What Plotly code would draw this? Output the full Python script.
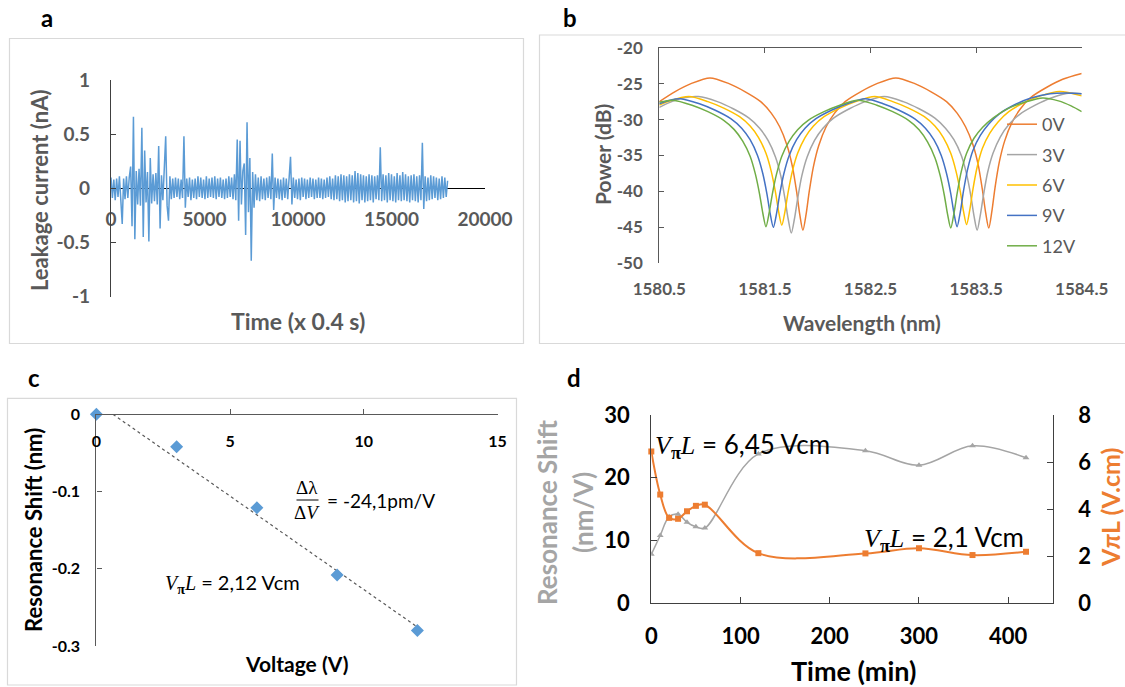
import plotly.graph_objects as go
import numpy as np

# ---------------- data ----------------
# Panel a: leakage current (nA), sampled every 75 time units (x 0.4 s)
leak_current = [
    0.10, -0.09, 0.08, -0.11, 0.09, -0.08, 0.11, -0.10, -0.33, 0.09,
    -0.10, 0.11, -0.09, 0.10, 0.20, -0.35, 0.66, -0.47, 0.16, -0.15,
    0.18, -0.16, 0.56, -0.45, 0.35, -0.13, 0.15, -0.49, 0.28, -0.14,
    0.13, -0.12, 0.14, -0.15, 0.39, -0.37, 0.12, -0.11, 0.15, 0.48,
    -0.16, -0.30, 0.11, -0.10, 0.09, -0.09, 0.10, -0.08, 0.09, -0.10,
    0.08, -0.09, 0.48, -0.18, 0.09, -0.08, 0.10, -0.11, 0.08, -0.09,
    0.09, -0.10, 0.11, -0.08, 0.10, -0.09, 0.08, -0.10, 0.11, -0.09,
    0.09, -0.08, 0.10, -0.09, 0.11, -0.10, 0.09, -0.08, 0.10, -0.09,
    0.08, -0.10, 0.09, -0.09, 0.11, -0.08, 0.10, -0.10, 0.13, -0.11,
    0.45, -0.30, 0.44, -0.15, 0.16, 0.23, -0.43, 0.61, -0.22, 0.28,
    -0.67, 0.15, -0.18, 0.13, -0.11, 0.10, -0.12, 0.11, -0.10, 0.09,
    -0.11, 0.10, -0.09, 0.11, -0.10, 0.32, -0.20, 0.10, -0.09, 0.09,
    -0.10, 0.08, -0.11, 0.10, -0.09, 0.09, -0.10, 0.09, 0.29, -0.15,
    0.10, -0.09, 0.08, -0.10, 0.09, -0.11, 0.10, -0.08, 0.09, -0.10,
    0.08, -0.09, 0.10, -0.08, 0.09, -0.10, 0.08, -0.09, 0.10, -0.09,
    0.09, -0.10, 0.08, -0.09, 0.10, -0.08, 0.11, -0.10, 0.09, -0.11,
    0.12, -0.10, 0.11, -0.12, 0.13, -0.11, 0.12, -0.13, 0.11, -0.12,
    0.13, -0.11, 0.12, -0.13, 0.16, -0.12, 0.14, -0.14, 0.13, -0.11,
    0.12, -0.13, 0.11, -0.12, 0.13, -0.11, 0.12, -0.13, 0.11, -0.10,
    0.12, -0.11, 0.38, -0.12, 0.13, -0.11, 0.12, -0.13, 0.14, -0.11,
    0.13, -0.12, 0.11, -0.13, 0.14, -0.11, 0.12, -0.12, 0.15, -0.11,
    0.13, -0.12, 0.11, -0.13, 0.12, -0.11, 0.13, -0.12, 0.11, -0.13,
    0.12, -0.11, 0.42, -0.19, 0.11, -0.12, 0.10, -0.11, 0.12, -0.10,
    0.11, -0.09, 0.10, -0.11, 0.09, -0.10, 0.11, -0.09, 0.10, -0.08, 0.07,
]
leak_step = 75
leak_time = [i * leak_step for i in range(len(leak_current))]
leak_xticks = [0, 5000, 10000, 15000, 20000]
leak_yticks = [1, 0.5, 0, -0.5, -1]

# Panel b: transmission spectra
wl_0V = [1580.5, 1580.65, 1580.8, 1580.98, 1581.16, 1581.31, 1581.46, 1581.56, 1581.64, 1581.71,
         1581.76, 1581.80, 1581.83, 1581.86, 1581.89, 1581.92, 1581.96, 1582.01, 1582.08, 1582.16,
         1582.26, 1582.41, 1582.56, 1582.74, 1582.92, 1583.07, 1583.22, 1583.32, 1583.40, 1583.47,
         1583.52, 1583.56, 1583.59, 1583.62, 1583.65, 1583.68, 1583.72, 1583.77, 1583.84, 1583.92,
         1584.02, 1584.17, 1584.32, 1584.5]
pw_0V = [-27.5, -26.1, -25.0, -24.2, -25.0, -26.1, -27.5, -29.1, -31.0, -33.6,
         -36.5, -40.0, -43.2, -45.4, -43.2, -40.0, -36.5, -33.6, -31.0, -29.1,
         -27.5, -26.1, -25.0, -24.2, -25.0, -26.1, -27.5, -29.1, -31.0, -33.5,
         -36.3, -39.8, -42.9, -45.1, -42.7, -39.4, -35.9, -33.0, -30.4, -28.5,
         -26.9, -25.5, -24.4, -23.6]
wl_3V = [1580.5, 1580.6, 1580.72, 1580.87, 1581.05, 1581.20, 1581.35, 1581.45, 1581.53, 1581.60,
         1581.65, 1581.69, 1581.72, 1581.75, 1581.78, 1581.81, 1581.85, 1581.90, 1581.97, 1582.05,
         1582.15, 1582.30, 1582.45, 1582.63, 1582.81, 1582.96, 1583.11, 1583.21, 1583.29, 1583.36,
         1583.41, 1583.45, 1583.48, 1583.51, 1583.54, 1583.57, 1583.61, 1583.66, 1583.73, 1583.81,
         1583.91, 1584.06, 1584.21, 1584.39, 1584.5]
pw_3V = [-28.3, -27.6, -27.0, -26.8, -27.5, -28.5, -29.8, -31.2, -32.9, -35.2,
         -37.8, -41.0, -43.8, -45.8, -43.8, -41.0, -37.8, -35.2, -32.9, -31.2,
         -29.8, -28.5, -27.5, -26.8, -27.5, -28.5, -29.8, -31.2, -32.8, -35.0,
         -37.6, -40.6, -43.4, -45.4, -43.3, -40.5, -37.3, -34.7, -32.4, -30.7,
         -29.3, -28.0, -27.0, -26.3, -26.4]
wl_6V = [1580.5, 1580.6, 1580.78, 1580.96, 1581.11, 1581.26, 1581.36, 1581.44, 1581.51, 1581.56,
         1581.60, 1581.63, 1581.66, 1581.69, 1581.72, 1581.76, 1581.81, 1581.88, 1581.96, 1582.06,
         1582.21, 1582.36, 1582.54, 1582.71, 1582.86, 1583.01, 1583.11, 1583.19, 1583.26, 1583.31,
         1583.35, 1583.38, 1583.41, 1583.44, 1583.47, 1583.51, 1583.56, 1583.63, 1583.71, 1583.81,
         1583.96, 1584.11, 1584.29, 1584.5]
pw_6V = [-28.0, -27.4, -26.8, -27.5, -28.4, -29.6, -30.9, -32.5, -34.7, -37.2,
         -40.1, -42.8, -44.7, -42.8, -40.1, -37.2, -34.7, -32.5, -30.9, -29.6,
         -28.4, -27.5, -26.8, -27.5, -28.4, -29.6, -30.9, -32.5, -34.7, -37.2,
         -40.0, -42.7, -44.6, -42.6, -39.7, -36.6, -34.0, -31.9, -30.3, -28.9,
         -27.6, -26.7, -26.1, -26.7]
wl_9V = [1580.5, 1580.6, 1580.70, 1580.88, 1581.03, 1581.18, 1581.28, 1581.36, 1581.43, 1581.48,
         1581.52, 1581.55, 1581.58, 1581.61, 1581.64, 1581.68, 1581.73, 1581.80, 1581.88, 1581.98,
         1582.13, 1582.28, 1582.45, 1582.62, 1582.77, 1582.92, 1583.02, 1583.10, 1583.17, 1583.22,
         1583.26, 1583.29, 1583.32, 1583.35, 1583.38, 1583.42, 1583.47, 1583.54, 1583.62, 1583.72,
         1583.87, 1584.02, 1584.20, 1584.35, 1584.5]
pw_9V = [-27.8, -27.3, -27.1, -27.8, -28.7, -29.9, -31.2, -32.8, -35.0, -37.5,
         -40.4, -43.1, -45.0, -43.1, -40.4, -37.5, -35.0, -32.8, -31.2, -29.9,
         -28.7, -27.8, -27.1, -27.8, -28.7, -29.9, -31.2, -32.8, -35.0, -37.5,
         -40.3, -43.0, -44.9, -42.9, -40.0, -36.9, -34.3, -32.2, -30.6, -29.2,
         -27.9, -27.0, -26.4, -26.3, -26.4]
wl_12V = [1580.5, 1580.63, 1580.81, 1580.96, 1581.11, 1581.21, 1581.29, 1581.36, 1581.41, 1581.45,
          1581.48, 1581.51, 1581.54, 1581.57, 1581.61, 1581.66, 1581.73, 1581.81, 1581.91, 1582.06,
          1582.21, 1582.38, 1582.56, 1582.71, 1582.86, 1582.96, 1583.04, 1583.11, 1583.16, 1583.20,
          1583.23, 1583.26, 1583.29, 1583.32, 1583.36, 1583.41, 1583.48, 1583.56, 1583.66, 1583.81,
          1583.96, 1584.13, 1584.28, 1584.4, 1584.5]
pw_12V = [-27.6, -27.3, -28.0, -28.9, -30.1, -31.4, -33.0, -35.1, -37.6, -40.4,
          -43.0, -44.9, -43.0, -40.4, -37.6, -35.1, -33.0, -31.4, -30.1, -28.9,
          -28.0, -27.3, -28.0, -28.9, -30.1, -31.4, -33.1, -35.3, -37.8, -40.6,
          -43.2, -45.1, -43.1, -40.3, -37.2, -34.7, -32.6, -31.1, -29.8, -28.4,
          -27.6, -27.0, -27.4, -28.1, -28.9]
spec_names = ["0V", "3V", "6V", "9V", "12V"]
spec_colors = ["#ED7D31", "#A5A5A5", "#FFC000", "#4472C4", "#70AD47"]
spec_wl = [wl_0V, wl_3V, wl_6V, wl_9V, wl_12V]
spec_pw = [pw_0V, pw_3V, pw_6V, pw_9V, pw_12V]
wl_ticks = [1580.5, 1581.5, 1582.5, 1583.5, 1584.5]
pw_ticks = [-20, -25, -30, -35, -40, -45, -50]

# Panel c: resonance shift vs voltage
voltage = [0, 3, 6, 9, 12]
res_shift_nm = [0, -0.042, -0.121, -0.208, -0.280]
volt_ticks = [0, 5, 10, 15]
shift_ticks = [0, -0.1, -0.2, -0.3]

# Panel d: time evolution
time_min = [0, 10, 20, 30, 40, 50, 60, 120, 240, 300, 360, 420]
res_shift_nmV = [7.8, 10.8, 13.8, 14.2, 12.9, 12.2, 12.0, 23.8, 24.3, 22.0, 25.1, 23.2]
vpil = [6.45, 4.62, 3.63, 3.59, 3.91, 4.14, 4.19, 2.13, 2.12, 2.34, 2.05, 2.19]

# ---------------- layout helpers ----------------
W, H = 1125, 687


def px(x):
    return x / W


def py(y):
    return 1 - y / H


FONT = "Lato"
SERIF = "Liberation Serif"
GRAY_TXT = "#595959"
AX = "#404040"

fig = go.Figure()

# Panel a
fig.add_trace(go.Scatter(x=leak_time, y=leak_current, mode="lines",
                         line=dict(color="#5B9BD5", width=1.5), showlegend=False,
                         xaxis="x", yaxis="y"))

# Panel b
for name, col, wl, pw in zip(spec_names, spec_colors, spec_wl, spec_pw):
    fig.add_trace(go.Scatter(x=wl, y=pw, mode="lines", name=name, legendgroup=name,
                             line=dict(color=col, width=1.5, shape="spline", smoothing=0.8),
                             xaxis="x2", yaxis="y2"))
fig.add_trace(go.Scatter(x=[wl_ticks[0]], y=[None], mode="lines", showlegend=False,
                         xaxis="x5", yaxis="y2", hoverinfo="skip"))

# Panel c
slope, intercept = np.polyfit(voltage, res_shift_nm, 1)
x_start = -intercept / slope
fig.add_trace(go.Scatter(x=[x_start, voltage[-1]],
                         y=[slope * x_start + intercept, slope * voltage[-1] + intercept],
                         mode="lines", line=dict(color="#595959", width=1.2, dash="dot"),
                         showlegend=False, xaxis="x3", yaxis="y3"))
fig.add_trace(go.Scatter(x=voltage, y=res_shift_nm, mode="markers",
                         marker=dict(symbol="diamond", size=10, color="#5B9BD5"),
                         cliponaxis=False, showlegend=False, xaxis="x3", yaxis="y3"))

# Panel d
fig.add_trace(go.Scatter(x=time_min, y=res_shift_nmV, mode="lines+markers",
                         line=dict(color="#A5A5A5", width=1.5, shape="spline", smoothing=1),
                         marker=dict(symbol="triangle-up", size=6, color="#A5A5A5"),
                         showlegend=False, xaxis="x4", yaxis="y4"))
fig.add_trace(go.Scatter(x=time_min, y=vpil, mode="lines+markers",
                         line=dict(color="#ED7D31", width=2, shape="spline", smoothing=1),
                         marker=dict(symbol="square", size=6, color="#ED7D31"),
                         cliponaxis=False, showlegend=False, xaxis="x4", yaxis="y5"))


def fmt(v):
    return f"{v:g}"


tick_a = dict(family=FONT, size=19, color=GRAY_TXT, weight="bold")
tick_b = dict(family=FONT, size=17, color=GRAY_TXT, weight="bold")
tick_c = dict(family=FONT, size=16, color="#000000", weight="bold")
tick_d = dict(family=FONT, size=22, color="#000000", weight="bold")

ya_dom = [py(296.6), py(80)]
yc_dom = [py(646), py(414.3)]
common = dict(automargin=False, showgrid=False, zeroline=False)

fig.update_layout(
    width=W, height=H, margin=dict(l=0, r=0, t=0, b=0, autoexpand=False),
    paper_bgcolor="white", plot_bgcolor="rgba(0,0,0,0)",
    font=dict(family=FONT),
    # panel a
    xaxis=dict(domain=[px(111), px(485)], range=[0, 20000], anchor="free",
               position=(ya_dom[0] + ya_dom[1]) / 2,
               tickvals=leak_xticks, ticktext=[fmt(v) for v in leak_xticks],
               showline=True, linecolor="#000000", linewidth=1.3, ticks="",
               tickfont=tick_a, ticklabelstandoff=14, layer="below traces", **common),
    yaxis=dict(domain=ya_dom, range=[-1, 1], anchor="x",
               tickvals=leak_yticks, ticktext=[fmt(v) for v in leak_yticks],
               showline=True, linecolor=AX, linewidth=1.3, ticks="inside", ticklen=5,
               tickcolor=AX, tickfont=tick_a, ticklabelstandoff=16, **common),
    # panel b
    xaxis2=dict(domain=[px(659.3), px(1081.7)], range=[1580.5, 1584.5], anchor="y2",
                tickvals=wl_ticks, ticktext=[fmt(v) for v in wl_ticks],
                showline=False, ticks="", tickfont=tick_b, ticklabelstandoff=14, **common),
    xaxis5=dict(range=[1580.5, 1584.5], anchor="y2", overlaying="x2", side="top",
                tickvals=wl_ticks[1:], showticklabels=False, showline=True,
                linecolor=GRAY_TXT, linewidth=1.2, ticks="inside", ticklen=5,
                tickcolor=GRAY_TXT, **common),
    yaxis2=dict(domain=[py(263.3), py(47.7)], range=[-50, -20], anchor="x2",
                tickvals=pw_ticks, ticktext=[fmt(v) for v in pw_ticks],
                showline=True, linecolor=GRAY_TXT, linewidth=1.2, ticks="inside", ticklen=5,
                tickcolor=GRAY_TXT, tickfont=tick_b, ticklabelstandoff=12, **common),
    # panel c
    xaxis3=dict(domain=[px(96.4), px(497.6)], range=[0, 15], anchor="free",
                position=yc_dom[1], tickvals=volt_ticks, ticktext=[fmt(v) for v in volt_ticks],
                showline=True, linecolor=GRAY_TXT, linewidth=1.2, ticks="inside", ticklen=5,
                tickcolor=GRAY_TXT, tickfont=tick_c, ticklabelstandoff=12, **common),
    yaxis3=dict(domain=yc_dom, range=[-0.3, 0], anchor="x3",
                tickvals=shift_ticks, ticktext=[fmt(v) for v in shift_ticks],
                showline=True, linecolor=GRAY_TXT, linewidth=1.2, ticks="inside", ticklen=5,
                tickcolor=GRAY_TXT, tickfont=tick_c, ticklabelstandoff=12, **common),
    # panel d
    xaxis4=dict(domain=[px(651.3), px(1052.8)], range=[0, 450], anchor="y4",
                tickvals=[0, 100, 200, 300, 400], showline=True, linecolor=AX, linewidth=1.3,
                ticks="inside", ticklen=6, tickcolor=AX, tickfont=tick_d,
                ticklabelstandoff=13, **common),
    yaxis4=dict(domain=[py(603.3), py(415)], range=[0, 30], anchor="x4",
                tickvals=[0, 10, 20, 30], showline=True, linecolor=AX, linewidth=1.3,
                ticks="inside", ticklen=6, tickcolor=AX, tickfont=tick_d,
                ticklabelstandoff=16, **common),
    yaxis5=dict(range=[0, 8], anchor="x4", overlaying="y4", side="right",
                tickvals=[0, 2, 4, 6, 8], showline=True, linecolor=AX, linewidth=1.3,
                ticks="inside", ticklen=6, tickcolor=AX, tickfont=tick_d,
                ticklabelstandoff=20, **common),
    legend=dict(x=px(1002), y=py(106), xanchor="left", yanchor="top",
                font=dict(family=FONT, size=18, color=GRAY_TXT),
                bgcolor="rgba(0,0,0,0)", tracegroupgap=4, itemwidth=30),
)

# frames of panels a, b, c
frame = dict(type="rect", xref="paper", yref="paper", line=dict(color="#D9D9D9", width=1.2),
             fillcolor="rgba(0,0,0,0)", layer="below")
fig.add_shape(**frame, x0=px(9.5), x1=px(523.5), y0=py(343.5), y1=py(38.5))
fig.add_shape(**frame, x0=px(539.5), x1=px(1140), y0=py(343.5), y1=py(35))
fig.add_shape(**frame, x0=px(7.5), x1=px(516.5), y0=py(685), y1=py(398.3))

# fraction bar in panel c
fig.add_shape(type="line", xref="paper", yref="paper", x0=px(296.5), x1=px(318.5),
              y0=py(500), y1=py(500), line=dict(color="#000000", width=1))


def ann(text, x, y, size, color="#000000", bold=False, angle=0, xanchor="center",
        yanchor="middle", family=FONT):
    fig.add_annotation(text=text, x=px(x), y=py(y), xref="paper", yref="paper",
                       showarrow=False, textangle=angle, xanchor=xanchor, yanchor=yanchor,
                       font=dict(family=family, size=size, color=color,
                                 weight="bold" if bold else "normal"))


# panel labels
ann("a", 47, 18, 24, bold=True)
ann("b", 570, 17, 24, bold=True)
ann("c", 34, 377, 24, bold=True)
ann("d", 574, 378, 24, bold=True)

# axis titles
ann("Leakage current (nA)", 39, 190, 22, GRAY_TXT, True, -90)
ann("Time (x 0.4 s)", 298, 321, 23, GRAY_TXT, True)
ann("Power (dB)", 602, 155, 21, GRAY_TXT, True, -90)
ann("Wavelength (nm)", 862, 323, 21, GRAY_TXT, True)
ann("Resonance Shift (nm)", 33, 530, 22, "#000000", True, -90)
ann("Voltage (V)", 296, 663, 21, "#000000", True)
ann("Resonance Shift", 547, 513, 26, "#A5A5A5", True, -90)
ann("(nm/V)", 583, 513, 26, "#A5A5A5", True, -90)
ann("V<i>π</i>L (V.cm)", 1110, 508, 25, "#ED7D31", True, -90)
ann("Time (min)", 853, 670, 27, "#000000", True)

# formula annotations
vpl = ('<span style="font-family:Liberation Serif"><i>V</i><sub><b>π</b></sub>'
       '<i>L</i></span>')
ann("Δλ", 307, 488, 19, family=SERIF)
ann("Δ<i>V</i>", 307, 512, 19, family=SERIF)
ann("= -24,1pm/V", 325, 500, 19, xanchor="left")
ann(vpl + " = 2,12 Vcm", 163, 583, 20, xanchor="left")
ann(vpl + " = 6,45 Vcm", 653, 445, 26, xanchor="left")
ann(vpl + " = 2,1 Vcm", 862, 538, 26, xanchor="left")

fig.write_html("out.html", config={"displayModeBar": False},
               post_script="document.body.style.margin='0px';"
                           "document.body.style.overflow='hidden';")
